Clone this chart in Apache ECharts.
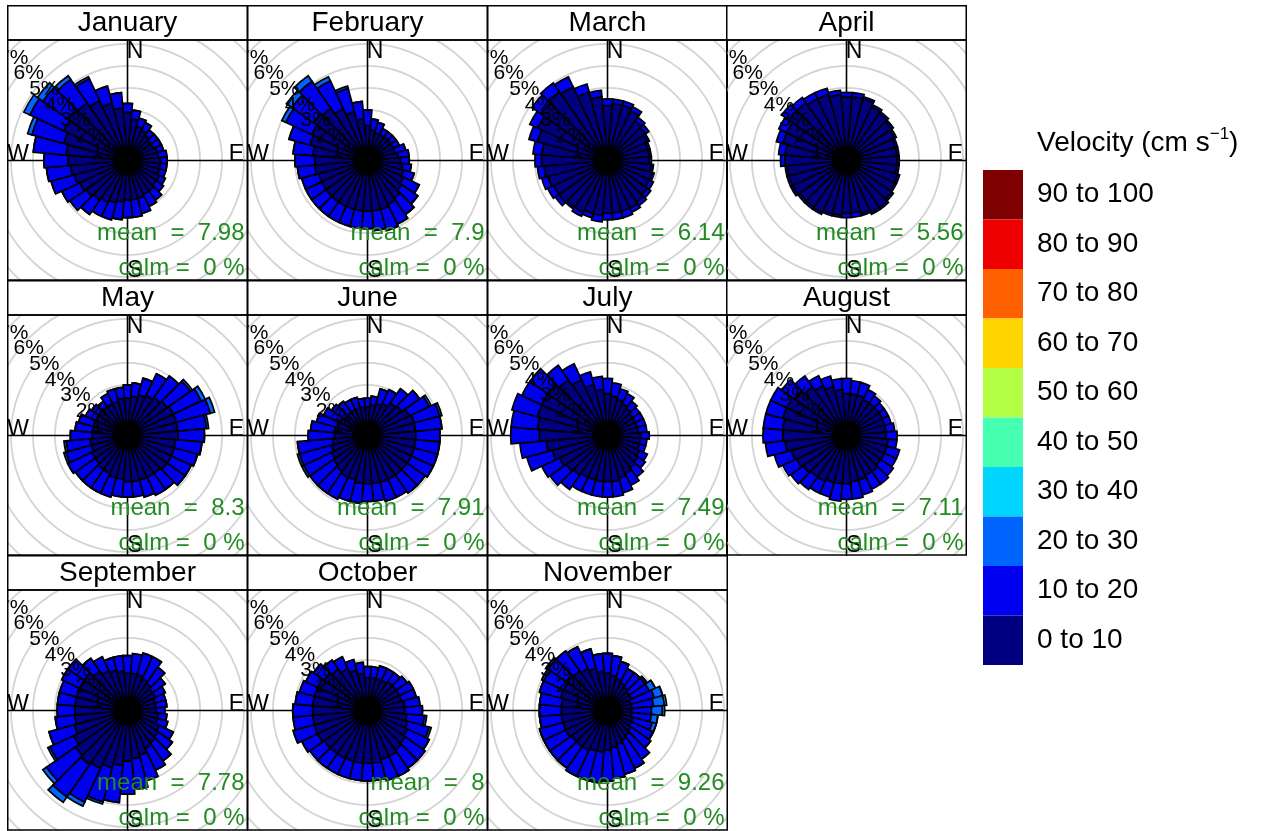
<!DOCTYPE html>
<html><head><meta charset="utf-8">
<script src="https://cdn.jsdelivr.net/npm/echarts@6/dist/echarts.min.js"></script>
<style>
html,body{margin:0;padding:0;background:#fff;width:1267px;height:831px;overflow:hidden;}
.p{position:absolute;}
</style></head><body>
<script>
// ---------------- DATA ----------------
const directions = [0,10,20,30,40,50,60,70,80,90,100,110,120,130,140,150,160,170,180,190,200,210,220,230,240,250,260,270,280,290,300,310,320,330,340,350];
const speedBins = ['0 to 10','10 to 20','20 to 30','30 to 40','40 to 50','50 to 60','60 to 70','70 to 80','80 to 90','90 to 100'];
const binColors = ['#000080','#0000F0','#0064FF','#00D5FF','#46FFB0','#B4FF46','#FFD500','#FF6000','#EE0000','#7F0000'];
const monthNames = ['January','February','March','April','May','June','July','August','September','October','November'];
const meanSpeed = ['7.98','7.9','6.14','5.56','8.3','7.91','7.49','7.11','7.78','8','9.26'];
const calmPct = [0,0,0,0,0,0,0,0,0,0,0];
const ringValues = [1,2,3,4,5,6,7];
const ringLabelsOdd = [1,3,5,7];
const ringLabelsEven = [2,4,6];

// frequency (%) per direction, per speed bin
const jan_0_10  = [1.9,1.6,1.3,1.2,1.1,1.0,1.0,1.1,1.1,1.2, 1.2,1.2,1.3,1.3,1.4,1.4,1.5,1.5,1.5,1.6, 1.7,1.8,1.9,2.0,2.1,2.2,2.3,2.4,2.5,2.7, 2.9,3.0,2.9,2.7,2.4,2.1];
const jan_10_20 = [0.4,0.4,0.4,0.4,0.3,0.4,0.4,0.3,0.4,0.3, 0.3,0.3,0.3,0.4,0.5,0.6,0.7,0.8,0.8,0.8, 0.8,0.7,0.8,0.9,0.9,1.1,1.1,1.1,1.5,1.5, 1.7,1.4,1.3,1.1,0.8,0.7];
const jan_20_30 = [0,0,0,0,0,0,0,0,0,0, 0,0,0,0,0,0,0,0,0,0, 0,0,0,0,0,0,0,0,0,0.2, 0.3,0.3,0.2,0.1,0,0];

const feb_0_10  = [1.3,1.1,1.0,1.0,1.0,1.0,1.0,1.0,1.1,1.2, 1.3,1.4,1.5,1.6,1.8,1.9,2.0,2.0,2.0,2.0, 2.0,2.0,2.0,2.0,2.0,2.0,2.1,2.1,2.2,2.4, 2.5,2.7,2.6,2.3,2.0,1.6];
const feb_10_20 = [0.7,0.5,0.5,0.3,0.3,0.3,0.3,0.5,0.5,0.4, 0.4,0.5,0.8,0.9,0.9,1.0,1.0,0.9,0.8,0.8, 0.8,0.8,0.8,0.8,0.8,0.8,0.8,0.9,0.9,1.0, 1.3,1.2,1.5,1.4,1.1,0.8];
const feb_20_30 = [0,0,0,0,0,0,0,0,0,0, 0,0,0,0,0,0,0,0,0,0, 0,0,0,0,0,0,0,0,0,0, 0.2,0.3,0.3,0.2,0.1,0];

const mar_0_10  = [2.2,2.3,2.3,2.2,1.9,1.8,1.7,1.6,1.6,1.6, 1.7,1.8,1.8,1.9,2.0,2.1,2.1,2.1,2.1,2.2, 2.2,2.3,2.3,2.4,2.4,2.5,2.6,2.7,2.7,3.0, 3.2,3.4,3.5,3.4,2.9,2.6];
const mar_10_20 = [0.3,0.2,0.2,0.2,0.2,0.2,0.1,0.1,0.1,0.1, 0.1,0.1,0.2,0.2,0.2,0.2,0.3,0.3,0.3,0.3, 0.2,0.2,0.1,0.2,0.3,0.3,0.3,0.3,0.4,0.4, 0.4,0.5,0.5,0.5,0.4,0.3];

const apr_0_10  = [2.6,2.6,2.6,2.4,2.3,2.2,2.1,2.0,2.0,2.0, 2.0,2.1,2.1,2.2,2.3,2.3,2.2,2.1,2.1,2.2, 2.2,2.3,2.3,2.3,2.4,2.4,2.4,2.5,2.5,2.7, 2.7,2.9,2.9,2.8,2.8,2.7];
const apr_10_20 = [0.2,0.2,0.1,0.1,0.1,0.1,0.1,0.1,0.1,0.1, 0.1,0.1,0.1,0.1,0.1,0.1,0.1,0.2,0.2,0.1, 0.1,0.1,0.1,0.1,0.1,0.1,0.1,0.2,0.3,0.3, 0.4,0.4,0.3,0.3,0.3,0.2];

const may_0_10  = [1.4,1.5,1.6,1.7,1.8,1.9,2.0,2.0,2.0,2.0, 1.9,1.9,1.9,1.9,1.8,1.8,1.8,1.8,1.8,1.7, 1.7,1.6,1.6,1.5,1.5,1.4,1.4,1.3,1.3,1.3, 1.3,1.3,1.3,1.3,1.3,1.4];
const may_10_20 = [0.6,0.6,0.8,1.1,1.2,1.3,1.4,1.6,1.3,1.2, 1.2,1.1,1.0,1.0,0.9,0.9,0.8,0.7,0.7,0.8, 0.9,1.0,1.0,1.1,1.2,1.2,1.1,1.0,0.8,0.7, 0.5,0.4,0.3,0.5,0.6,0.5];
const may_20_30 = [0,0,0,0,0,0.1,0.2,0.2,0.1,0, 0,0,0,0,0,0,0,0,0,0, 0,0,0,0,0,0.1,0.1,0,0,0, 0,0,0,0,0,0];

const jun_0_10  = [1.0,1.1,1.2,1.3,1.5,1.6,1.8,1.9,1.9,1.9, 1.9,1.9,1.9,1.9,1.9,1.9,1.9,1.9,1.9,1.9, 1.8,1.8,1.7,1.6,1.5,1.4,1.3,1.2,1.2,1.1, 1.1,1.0,1.0,1.0,1.0,1.0];
const jun_10_20 = [0.4,0.4,0.7,0.7,0.8,1.0,1.0,1.2,1.2,1.1, 1.1,1.1,1.1,1.0,1.0,0.9,0.9,0.8,0.8,0.9, 1.0,1.1,1.2,1.3,1.4,1.5,1.6,1.2,1.1,1.0, 0.8,0.7,0.6,0.5,0.5,0.4];
const jun_20_30 = [0,0,0,0,0,0,0.1,0.1,0,0, 0,0,0,0,0,0,0,0,0,0, 0,0,0,0,0.1,0.1,0,0,0,0, 0,0,0,0,0,0];

const jul_0_10  = [1.6,1.5,1.4,1.3,1.2,1.1,1.1,1.1,1.1,1.2, 1.2,1.2,1.3,1.4,1.5,1.6,1.7,1.8,1.8,1.8, 1.8,1.8,1.9,2.0,2.1,2.3,2.5,2.8,2.9,3.0, 3.0,3.0,2.8,2.5,2.1,1.8];
const jul_10_20 = [0.7,0.6,0.5,0.5,0.4,0.4,0.4,0.4,0.4,0.4, 0.3,0.3,0.4,0.4,0.5,0.6,0.7,0.7,0.7,0.7, 0.7,0.7,0.8,0.9,0.9,1.2,1.2,1.3,1.2,1.2, 1.0,1.0,0.8,0.8,0.6,0.6];

const aug_0_10  = [1.6,1.6,1.6,1.5,1.5,1.5,1.5,1.5,1.5,1.5, 1.6,1.6,1.6,1.6,1.7,1.7,1.8,1.8,1.9,1.9, 1.9,2.0,2.0,2.1,2.2,2.3,2.5,2.6,2.6,2.7, 2.7,2.6,2.4,2.2,2.0,1.8];
const aug_10_20 = [0.7,0.6,0.6,0.5,0.4,0.3,0.3,0.3,0.4,0.5, 0.4,0.6,0.6,0.7,0.7,0.7,0.7,0.8,0.7,0.8, 0.7,0.6,0.7,0.7,0.7,0.8,0.9,0.9,0.9,0.8, 0.8,0.7,0.6,0.5,0.5,0.5];

const sep_0_10  = [1.4,1.4,1.4,1.3,1.2,1.1,1.1,1.0,1.0,1.0, 1.1,1.1,1.3,1.4,1.5,1.6,1.8,1.9,2.0,2.2, 2.4,2.6,2.7,2.6,2.4,2.2,2.1,2.1,2.1,2.1, 2.1,2.1,1.9,1.7,1.6,1.5];
const sep_10_20 = [0.8,0.9,1.0,1.1,0.9,0.7,0.5,0.5,0.5,0.4, 0.4,0.5,0.7,0.8,1.0,1.1,1.2,1.4,1.5,1.7, 1.6,1.7,1.8,1.6,1.2,1.2,0.9,0.8,0.8,0.8, 0.9,0.9,0.7,0.7,0.6,0.7];
const sep_20_30 = [0,0,0,0,0,0,0,0,0,0, 0,0,0,0,0,0,0,0,0,0, 0.1,0.2,0.3,0.2,0.1,0,0,0,0,0, 0,0,0,0,0,0];

const oct_0_10  = [1.2,1.2,1.2,1.2,1.3,1.3,1.3,1.3,1.4,1.4, 1.5,1.6,1.7,1.8,1.9,2.0,2.0,2.1,2.1,2.1, 2.1,2.1,2.1,2.1,2.2,2.2,2.2,2.2,2.2,2.2, 2.2,2.1,2.0,1.8,1.6,1.4];
const oct_10_20 = [0.5,0.5,0.6,0.6,0.5,0.6,0.7,0.7,0.7,0.8, 0.8,1.0,1.1,1.1,1.0,1.0,1.0,0.8,0.8,0.8, 0.8,0.8,0.8,0.8,0.8,1.0,0.9,0.9,0.8,0.7, 0.6,0.6,0.5,0.6,0.5,0.5];
const oct_20_30 = [0,0,0,0,0,0,0,0,0,0, 0.1,0.1,0,0,0,0,0,0,0,0, 0,0,0,0,0,0,0,0,0,0, 0,0,0,0,0,0];

const nov_0_10  = [1.4,1.3,1.2,1.1,1.0,0.9,0.9,0.8,0.8,0.8, 0.8,0.9,0.9,1.0,1.1,1.2,1.3,1.4,1.5,1.6, 1.6,1.7,1.7,1.7,1.8,1.8,1.8,1.8,1.8,1.9, 1.9,2.0,1.9,1.8,1.7,1.5];
const nov_10_20 = [0.9,0.9,0.8,0.7,0.8,0.9,0.9,1.1,1.0,0.9, 0.9,0.9,1.1,1.1,1.3,1.4,1.4,1.4,1.4,1.4, 1.4,1.3,1.2,1.2,1.1,1.1,1.0,1.0,1.0,1.0, 1.0,1.0,1.1,1.1,0.9,0.8];
const nov_20_30 = [0,0,0,0,0,0.1,0.3,0.4,0.5,0.5, 0.3,0.2,0,0,0,0,0,0,0,0, 0,0,0,0,0,0,0,0,0,0, 0.1,0.1,0,0,0,0];
const nov_30_40 = [0,0,0,0,0,0,0,0,0.1,0.1, 0,0,0,0,0,0,0,0,0,0, 0,0,0,0,0,0,0,0,0,0, 0,0,0,0,0,0];

const monthBins = [
  [jan_0_10, jan_10_20, jan_20_30],
  [feb_0_10, feb_10_20, feb_20_30],
  [mar_0_10, mar_10_20],
  [apr_0_10, apr_10_20],
  [may_0_10, may_10_20, may_20_30],
  [jun_0_10, jun_10_20, jun_20_30],
  [jul_0_10, jul_10_20],
  [aug_0_10, aug_10_20],
  [sep_0_10, sep_10_20, sep_20_30],
  [oct_0_10, oct_10_20, oct_20_30],
  [nov_0_10, nov_10_20, nov_20_30, nov_30_40]
];

// ---------------- LAYOUT ----------------
const FONT = 'Liberation Sans, Arial, Helvetica, sans-serif';
const colLeft = [7, 247, 487, 726];
const rowTop = [5, 280, 555];
const TH = 35;            // title strip height
const PAN = 240;          // panel size
const PX_PER_PCT = 22;
const RMIN = -0.3, RMAX = 7.6;
const RADIUS = (RMAX - RMIN) * PX_PER_PCT;

function txt(x, y, text, size, color, align, extra) {
  return Object.assign({
    type: 'text', x: x, y: y, silent: true,
    style: { text: text, font: size + 'px ' + FONT, fill: color,
      textAlign: align, align: align, textVerticalAlign: 'middle', verticalAlign: 'middle' }
  }, extra || {});
}

function labelAxis(idx, values) {
  return { polarIndex: idx, type: 'value', min: RMIN, max: RMAX, z: 10,
    axisLine: { show: false }, axisTick: { show: false, customValues: values },
    axisLabel: { show: true, customValues: values, formatter: '{value}%', margin: 1,
      hideOverlap: false, align: 'center', verticalAlign: 'top',
      fontSize: 21, color: '#000', fontFamily: FONT },
    splitLine: { show: false } };
}

monthNames.forEach(function (name, i) {
  const div = document.createElement('div');
  div.className = 'p';
  div.style.left = colLeft[i % 4] + 'px';
  div.style.top = rowTop[Math.floor(i / 4)] + 'px';
  div.style.width = '241px';
  div.style.height = '276px';
  document.body.appendChild(div);
  const chart = echarts.init(div, null, { renderer: 'canvas' });
  const cx = 120.5, cy = TH + 120.5;

  const series = monthBins[i].map(function (arr, b) {
    return {
      type: 'bar', coordinateSystem: 'polar', polarIndex: 1, stack: 'total',
      name: speedBins[b], data: arr, barCategoryGap: '0%', silent: true,
      itemStyle: { color: binColors[b], borderColor: '#000', borderWidth: 1.7 }
    };
  });

  const hidden = { axisLine: { show: false }, axisTick: { show: false }, axisLabel: { show: false }, splitLine: { show: false } };
  const pol = { center: [cx, cy], radius: [0, RADIUS] };

  chart.setOption({
    animation: false,
    polar: [pol, pol, pol, pol],
    angleAxis: [
      { polarIndex: 0, type: 'value', min: 0, max: 360, interval: 90, startAngle: 90, clockwise: true,
        axisLine: { show: false }, axisTick: { show: false }, axisLabel: { show: false },
        splitLine: { show: true, lineStyle: { color: '#000', width: 1.6 } } },
      Object.assign({ polarIndex: 1, type: 'category', data: directions, startAngle: 95, clockwise: true, boundaryGap: true }, hidden),
      Object.assign({ polarIndex: 2, type: 'value', min: 0, max: 360, startAngle: 135, clockwise: true }, hidden),
      Object.assign({ polarIndex: 3, type: 'value', min: 0, max: 360, startAngle: 135, clockwise: true }, hidden)
    ],
    radiusAxis: [
      { polarIndex: 0, type: 'value', min: RMIN, max: RMAX,
        axisLine: { show: false }, axisTick: { show: false, customValues: ringValues },
        axisLabel: { show: false, customValues: ringValues },
        splitLine: { show: true, lineStyle: { color: '#d4d4d4', width: 1.8 } } },
      Object.assign({ polarIndex: 1, type: 'value', min: RMIN, max: RMAX }, hidden),
      labelAxis(2, ringLabelsOdd),
      labelAxis(3, ringLabelsEven)
    ],
    series: series,
    graphic: [
      { type: 'circle', shape: { cx: cx, cy: cy, r: 15 }, style: { fill: '#000' }, z: 50, silent: true },
      txt(128, 47, 'N', 23, '#000', 'center', { z: 60 }),
      txt(229.5, 150, 'E', 23, '#000', 'center', { z: 60 }),
      txt(11, 150, 'W', 23, '#000', 'center', { z: 60 }),
      txt(128, 266, 'S', 23, '#000', 'center', { z: 60 }),
      txt(237.5, 228, 'mean  =  ' + meanSpeed[i], 24, '#228B22', 'right', { z: 61 }),
      txt(237.5, 263.5, 'calm =  ' + calmPct[i] + ' %', 24, '#228B22', 'right', { z: 61 }),
      { type: 'rect', shape: { x: 0.75, y: 0.75, width: 239.5, height: TH - 0.75 },
        style: { fill: '#fff', stroke: '#000', lineWidth: 1.5 }, z: 100, silent: true },
      txt(120.5, TH / 2 + 1, name, 28, '#000', 'center', { z: 101 }),
      { type: 'rect', shape: { x: 0.75, y: TH, width: 239.5, height: PAN },
        style: { fill: 'none', stroke: '#000', lineWidth: 1.5 }, z: 100, silent: true }
    ]
  });
});

// ---------------- LEGEND ----------------
(function () {
  const div = document.createElement('div');
  div.className = 'p';
  div.style.left = '975px'; div.style.top = '100px';
  div.style.width = '292px'; div.style.height = '600px';
  document.body.appendChild(div);
  const chart = echarts.init(div, null, { renderer: 'canvas' });
  const pieces = speedBins.map(function (lbl, k) {
    return { min: k * 10, max: k * 10 + 10, label: lbl, color: binColors[k] };
  });
  chart.setOption({
    animation: false,
    title: {
      text: '{a|Velocity (cm s}{b|\u22121}{a|)}', left: 57, top: 21,
      textStyle: { fontWeight: 'normal', rich: {
        a: { fontSize: 28, fontFamily: FONT, color: '#000', lineHeight: 34, fontWeight: 'normal' },
        b: { fontSize: 17, fontFamily: FONT, color: '#000', lineHeight: 16, verticalAlign: 'top', fontWeight: 'normal' }
      } }
    },
    visualMap: {
      type: 'piecewise', pieces: pieces, orient: 'vertical', left: -7, top: 55,
      itemWidth: 40, itemHeight: 49.5, itemGap: 0, itemSymbol: 'rect', textGap: 14,
      align: 'left', seriesIndex: [], selectedMode: false, hoverLink: false,
      textStyle: { fontSize: 28, color: '#000', fontFamily: FONT }
    }
  });
})();
</script>
</body></html>
